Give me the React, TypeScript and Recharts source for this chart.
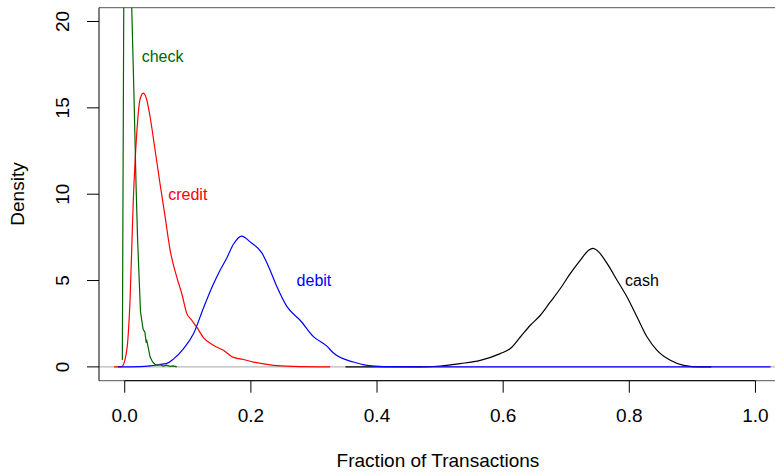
import React from "react";
import { LineChart, Line, XAxis, YAxis, ReferenceLine, ReferenceDot } from "recharts";

// density estimates
const checkX = [-0.0038, 0.0002, 0.0111, 0.0148, 0.0179, 0.0203, 0.0232, 0.025, 0.027, 0.029, 0.032, 0.034, 0.035, 0.0374, 0.04, 0.0428, 0.045, 0.048, 0.051, 0.056, 0.061, 0.066, 0.072, 0.077, 0.0825];
const checkY = [0.4, 37, 20.8, 15.5, 10.6, 7.5, 4.8, 3.2, 2.7, 2.2, 2.0, 1.4, 1.5, 1.1, 0.6, 0.38, 0.25, 0.15, 0.1, 0.12, 0.05, 0.1, 0.03, 0.06, 0];

const creditX = [-0.017, -0.0048, 0.0032, 0.0084, 0.0136, 0.019, 0.0243, 0.0295, 0.0349, 0.0401, 0.0481, 0.056, 0.064, 0.0719, 0.0825, 0.0904, 0.0984, 0.1063, 0.1142, 0.1247, 0.1406, 0.1564, 0.1723, 0.1882, 0.204, 0.2358, 0.2675, 0.3257];
const creditY = [0, 0.02, 0.96, 3.86, 9.66, 13.5, 15.5, 15.85, 15.46, 14.5, 12.56, 10.6, 8.7, 6.77, 5.2, 4.25, 3.1, 2.7, 2.3, 1.7, 1.25, 0.96, 0.55, 0.43, 0.28, 0.09, 0.03, 0];

const debitX = [-0.0105, 0.0243, 0.04, 0.056, 0.0666, 0.0771, 0.093, 0.1088, 0.1247, 0.1406, 0.1512, 0.1618, 0.1723, 0.1856, 0.1988, 0.2174, 0.2305, 0.2412, 0.257, 0.2781, 0.2992, 0.3205, 0.331, 0.3627, 0.384, 0.41, 0.4685, 0.754, 1.024];
const debitY = [0, 0.02, 0.06, 0.14, 0.2, 0.45, 1.05, 1.9, 3.4, 4.8, 5.6, 6.3, 7.1, 7.57, 7.24, 6.6, 5.6, 4.65, 3.5, 2.7, 1.75, 1.2, 0.8, 0.28, 0.09, 0.02, 0, 0, 0];

const cashX = [0.35, 0.4685, 0.5003, 0.532, 0.5637, 0.5954, 0.6113, 0.6272, 0.6431, 0.659, 0.6748, 0.6907, 0.7066, 0.7224, 0.7355, 0.7425, 0.7514, 0.7647, 0.7806, 0.7964, 0.8123, 0.8282, 0.844, 0.8651, 0.8862, 0.9127, 0.93];
const cashY = [0, 0, 0.05, 0.19, 0.38, 0.77, 1.06, 1.73, 2.41, 2.99, 3.76, 4.54, 5.41, 6.18, 6.76, 6.86, 6.66, 5.99, 5.02, 4.05, 2.89, 1.73, 0.96, 0.38, 0.09, 0, 0];

const seriesNames = ["check", "credit", "debit", "cash"];
const seriesColors = ["#006400", "#ff0000", "#0000ff", "#000000"];
const labelX = [0.06, 0.1, 0.3, 0.82];
const labelY = [18, 10, 5, 5];

const xTicks = [0, 0.2, 0.4, 0.6, 0.8, 1.0];
const yTicks = [0, 5, 10, 15, 20];
const xDomain = [-0.0408, 1.031];
const yDomain = [-0.8, 20.8];

const toRows = (xs: number[], ys: number[]) => xs.map((x, i) => ({ x, y: ys[i] }));

const YTick = (props: any) => (
  <text transform={`translate(68.5,${props.y}) rotate(-90)`} textAnchor="middle" fontSize={19} fill="#000">
    {props.payload.value}
  </text>
);

export default function App() {
  const cash = toRows(cashX, cashY);
  const credit = toRows(creditX, creditY);
  const debit = toRows(debitX, debitY);
  const check = toRows(checkX, checkY);

  return (
    <div style={{ position: "absolute", left: 0, top: 0, fontFamily: "'Liberation Sans', Arial, sans-serif" }}>
      <LineChart width={775} height={472} margin={{ top: 7.7, right: 0, left: 0, bottom: 0 }}>
        <XAxis
          type="number"
          dataKey="x"
          domain={xDomain}
          allowDataOverflow
          ticks={xTicks}
          tickFormatter={(v: number) => v.toFixed(1)}
          axisLine={false}
          tickLine={{ stroke: "#000" }}
          tickSize={12}
          tickMargin={16.3}
          tick={{ fontSize: 19, fill: "#000" }}
          height={91.3}
          label={{
            content: () => (
              <text x={438} y={467} textAnchor="middle" fontSize={19} fill="#000">
                Fraction of Transactions
              </text>
            ),
          }}
        />
        <YAxis
          type="number"
          domain={yDomain}
          allowDataOverflow
          ticks={yTicks}
          width={99}
          axisLine={{ stroke: "#000" }}
          tickLine={{ stroke: "#000" }}
          tickSize={12}
          tick={<YTick />}
          label={{
            content: () => (
              <text transform="translate(24,194) rotate(-90)" textAnchor="middle" fontSize={19} fill="#000">
                Density
              </text>
            ),
          }}
        />
        <ReferenceLine y={yDomain[1]} stroke="#555" />
        <ReferenceLine y={yDomain[0]} stroke="#555" />
        <ReferenceLine segment={[{ x: 0, y: yDomain[0] }, { x: 1, y: yDomain[0] }]} stroke="#000" />
        <ReferenceLine y={0} stroke="#a6a6a6" />
        <Line data={cash} dataKey="y" type="monotone" stroke={seriesColors[3]} strokeWidth={1.2} dot={false} isAnimationActive={false} />
        <Line data={credit} dataKey="y" type="monotone" stroke={seriesColors[1]} strokeWidth={1.2} dot={false} isAnimationActive={false} />
        <Line data={debit} dataKey="y" type="monotone" stroke={seriesColors[2]} strokeWidth={1.2} dot={false} isAnimationActive={false} />
        <Line data={check} dataKey="y" type="linear" stroke={seriesColors[0]} strokeWidth={1.2} dot={false} isAnimationActive={false} />
        {seriesNames.map((name, i) => (
          <ReferenceDot
            key={name}
            x={labelX[i]}
            y={labelY[i]}
            r={0}
            fill="none"
            stroke="none"
            label={{ value: name, position: "center", fill: seriesColors[i], fontSize: 16 }}
          />
        ))}
      </LineChart>
    </div>
  );
}
